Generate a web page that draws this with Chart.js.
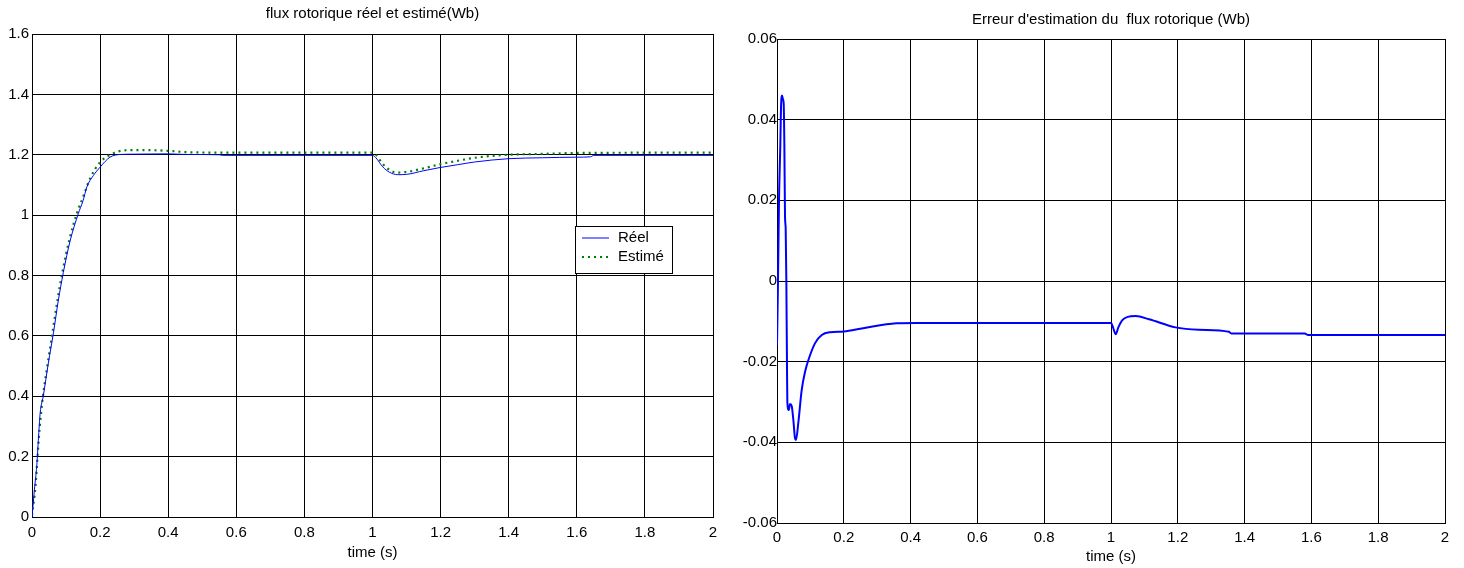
<!DOCTYPE html>
<html>
<head>
<meta charset="utf-8">
<script src="https://cdn.jsdelivr.net/npm/chart.js@4"></script>
<style>
  body { margin: 0; background: #fff; }
  #left { position: absolute; left: 0; top: 0; }
  #right { position: absolute; left: 730px; top: 0; }
</style>
</head>
<body>
<canvas id="left" width="730" height="568"></canvas>
<canvas id="right" width="734" height="568"></canvas>
<script>
// flux réel
const tReel = [0,0.004,0.007,0.014,0.02,0.024,0.033,0.048,0.063,0.077,0.092,0.112,0.136,0.15,0.161,0.18,0.2,0.215,0.229,0.245,0.26,0.3,0.4,0.45,0.55,0.56,1.0,1.01,1.03,1.05,1.074,1.1,1.15,1.2,1.25,1.3,1.4,1.5,1.6,1.64,1.65,2.0];
const fluxReel = [0,0.05,0.09,0.17,0.28,0.345,0.40,0.51,0.61,0.715,0.81,0.915,1.005,1.048,1.093,1.131,1.159,1.178,1.192,1.199,1.201,1.202,1.203,1.201,1.2,1.198,1.198,1.19,1.16,1.142,1.134,1.135,1.147,1.158,1.167,1.176,1.187,1.19,1.192,1.193,1.198,1.198];
// flux estimé
const tEst = [0,0.01,0.02,0.03,0.045,0.06,0.075,0.09,0.11,0.133,0.15,0.17,0.2,0.23,0.254,0.28,0.35,0.4,0.465,0.6,1.0,1.01,1.03,1.05,1.07,1.1,1.15,1.2,1.25,1.3,1.4,1.5,1.6,2.0];
const fluxEst = [0.005,0.1,0.26,0.38,0.5,0.61,0.72,0.815,0.92,1.01,1.06,1.12,1.175,1.2,1.211,1.215,1.215,1.213,1.208,1.207,1.207,1.2,1.17,1.15,1.141,1.143,1.155,1.169,1.18,1.19,1.2,1.203,1.206,1.207];
// erreur d'estimation
const tErr = [0,0.003,0.006,0.01,0.012,0.015,0.018,0.02,0.022,0.024,0.026,0.028,0.03,0.031,0.035,0.039,0.044,0.049,0.054,0.057,0.064,0.074,0.084,0.094,0.114,0.134,0.159,0.2,0.258,0.357,0.417,1.0,1.006,1.014,1.022,1.034,1.05,1.074,1.114,1.193,1.263,1.353,1.36,1.58,1.59,2.0];
const erreur = [-0.016,0.0,0.02,0.034,0.043,0.046,0.045,0.044,0.034,0.016,0.013,0.0,-0.022,-0.03,-0.032,-0.0305,-0.031,-0.0345,-0.039,-0.0394,-0.035,-0.027,-0.0225,-0.0196,-0.0154,-0.0134,-0.0127,-0.0125,-0.0117,-0.0105,-0.0104,-0.0104,-0.0115,-0.0132,-0.0115,-0.0097,-0.0089,-0.0087,-0.0095,-0.0115,-0.0121,-0.0126,-0.013,-0.013,-0.0134,-0.0134];

const FONT = "'Liberation Sans', Arial, sans-serif";
const pts = (xs, ys) => xs.map((x, i) => ({ x: x, y: ys[i] }));
const fmt = v => String(+(+v).toFixed(2));

const legendBox = {
  id: 'legendBox',
  afterDraw(chart) {
    const ctx = chart.ctx;
    const a = chart.chartArea;
    const x = a.left + 543, y = a.top + 192, w = 97, h = 47;
    ctx.save();
    ctx.fillStyle = '#fff';
    ctx.fillRect(x, y, w, h);
    ctx.strokeStyle = '#000';
    ctx.lineWidth = 1;
    ctx.strokeRect(x + 0.5, y + 0.5, w, h);
    chart.data.datasets.forEach((ds, i) => {
      const ly = y + 12 + i * 19;
      ctx.strokeStyle = ds.borderColor;
      ctx.lineWidth = ds.borderWidth;
      ctx.setLineDash(ds.borderDash || []);
      ctx.beginPath();
      ctx.moveTo(x + 7, ly);
      ctx.lineTo(x + 34, ly);
      ctx.stroke();
      ctx.setLineDash([]);
      ctx.fillStyle = '#000';
      ctx.font = '15px ' + FONT;
      ctx.textBaseline = 'middle';
      ctx.fillText(ds.label, x + 43, ly);
    });
    ctx.restore();
  }
};

function axes(ymin, ymax, ystep, yWidth, yPad, xHeight, xTickPad, xTitlePad) {
  return {
    x: {
      type: 'linear', min: 0, max: 2,
      ticks: { stepSize: 0.2, color: '#000', font: { family: FONT, size: 15 }, padding: xTickPad, callback: fmt, maxRotation: 0 },
      grid: { color: '#000', lineWidth: 1, drawTicks: false },
      border: { color: '#000', width: 1 },
      title: { display: true, text: 'time (s)', color: '#000', font: { family: FONT, size: 15 }, padding: { top: 0, bottom: xTitlePad } },
      afterFit(s) { s.height = xHeight; }
    },
    y: {
      min: ymin, max: ymax,
      ticks: { stepSize: ystep, color: '#000', font: { family: FONT, size: 15 }, padding: yPad, callback: fmt },
      grid: { color: '#000', lineWidth: 1, drawTicks: false },
      border: { color: '#000', width: 1 },
      afterFit(s) { s.width = yWidth; }
    }
  };
}

new Chart(document.getElementById('left'), {
  type: 'line',
  data: {
    datasets: [
      { label: 'Réel', data: pts(tReel, fluxReel), borderColor: '#0000ff', borderWidth: 1, pointRadius: 0, cubicInterpolationMode: 'monotone' },
      { label: 'Estimé', data: pts(tEst, fluxEst), borderColor: '#008000', borderWidth: 2.2, borderDash: [2, 4], pointRadius: 0, cubicInterpolationMode: 'monotone' }
    ]
  },
  options: {
    responsive: false,
    animation: false,
    layout: { padding: { left: 0, right: 17, top: 0, bottom: 0 } },
    scales: axes(0, 1.6, 0.2, 32, 3, 51, 7, 6),
    plugins: {
      legend: { display: false },
      tooltip: { enabled: false },
      title: { display: true, fullSize: false, text: 'flux rotorique réel et estimé(Wb)', color: '#000', font: { family: FONT, size: 15, weight: 'normal' }, padding: { top: 5, bottom: 11 } }
    }
  },
  plugins: [legendBox]
});

new Chart(document.getElementById('right'), {
  type: 'line',
  data: {
    datasets: [
      { label: 'Erreur', data: pts(tErr, erreur), borderColor: '#0000ff', borderWidth: 2, pointRadius: 0, cubicInterpolationMode: 'monotone' }
    ]
  },
  options: {
    responsive: false,
    animation: false,
    layout: { padding: { left: 0, right: 19, top: 0, bottom: 0 } },
    scales: axes(-0.06, 0.06, 0.02, 47, 0, 45, 6, 2),
    plugins: {
      legend: { display: false },
      tooltip: { enabled: false },
      title: { display: true, fullSize: false, text: "Erreur d'estimation du  flux rotorique (Wb)", color: '#000', font: { family: FONT, size: 15, weight: 'normal' }, padding: { top: 11, bottom: 10 } }
    }
  }
});
</script>
</body>
</html>
